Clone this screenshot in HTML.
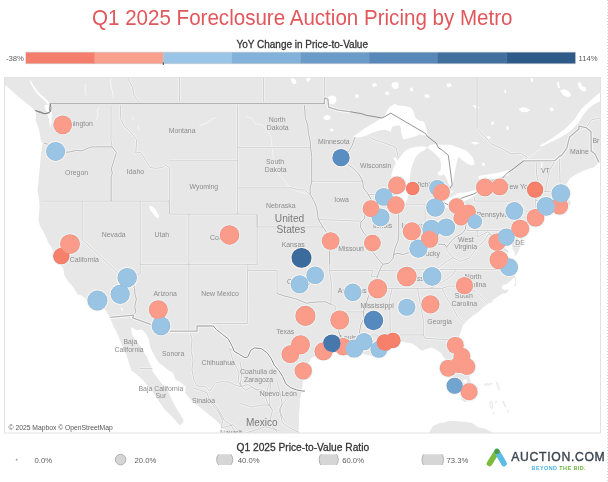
<!DOCTYPE html>
<html><head><meta charset="utf-8"><style>
html,body{margin:0;padding:0;background:#fff;}
body{width:608px;height:482px;position:relative;overflow:hidden;font-family:"Liberation Sans",sans-serif;}
.t{position:absolute;white-space:nowrap;line-height:1;will-change:transform;}
svg text{font-family:"Liberation Sans",sans-serif;}
</style></head><body>
<svg width="608" height="482" viewBox="0 0 608 482" style="position:absolute;left:0;top:0;will-change:transform">
<defs><clipPath id="mc"><rect x="4.5" y="77.5" width="596" height="355.5"/></clipPath></defs>
<rect x="26.00" y="52.4" width="68.92" height="11.1" fill="#f47e6b"/>
<rect x="94.62" y="52.4" width="68.92" height="11.1" fill="#f9a08e"/>
<rect x="163.25" y="52.4" width="68.92" height="11.1" fill="#9ac5e6"/>
<rect x="231.88" y="52.4" width="68.92" height="11.1" fill="#82b1d9"/>
<rect x="300.50" y="52.4" width="68.92" height="11.1" fill="#6b9bc8"/>
<rect x="369.12" y="52.4" width="68.92" height="11.1" fill="#5888ba"/>
<rect x="437.75" y="52.4" width="68.92" height="11.1" fill="#41709f"/>
<rect x="506.38" y="52.4" width="68.92" height="11.1" fill="#2d5a88"/>
<text x="236.4" y="47.8" font-size="10.2" fill="#333" stroke="#333" stroke-width="0.28" textLength="131.6" lengthAdjust="spacingAndGlyphs">YoY Change in Price-to-Value</text>
<text x="236.5" y="450.9" font-size="10.2" fill="#333" stroke="#333" stroke-width="0.28" textLength="132.6" lengthAdjust="spacingAndGlyphs">Q1 2025 Price-to-Value Ratio</text>
<text x="92" y="24.8" font-size="22.2" fill="#e2575b" textLength="420.5" lengthAdjust="spacingAndGlyphs">Q1 2025 Foreclosure Auction Pricing by Metro</text>
<rect x="25.7" y="52.1" width="549.6" height="11.7" fill="none" stroke="rgba(110,110,110,0.35)" stroke-width="0.6"/>
<rect x="162.8" y="62.5" width="0.9" height="2.5" fill="#333"/>
<text x="6" y="60.8" font-size="7.7" fill="#5c5c5c">-38%</text>
<text x="578.6" y="60.8" font-size="7.7" fill="#5c5c5c">114%</text>
<g clip-path="url(#mc)">
<rect x="0" y="0" width="608" height="482" fill="#ffffff"/>
<path d="M2.0,75.0 L2.0,86.0 L6.6,86.1 L16.6,95.3 L24.9,101.9 L30.0,106.0 L34.9,110.5 L36.0,113.0 L35.7,120.2 L38.2,126.8 L39.8,133.4 L40.7,140.0 L42.6,143.3 L41.6,150.0 L40.5,158.0 L39.9,166.6 L39.0,175.0 L38.3,183.2 L37.4,189.8 L39.1,199.8 L39.6,208.1 L38.3,219.7 L39.2,223.0 L40.0,226.0 L43.3,231.6 L46.6,238.3 L48.0,242.0 L50.7,245.7 L53.2,251.6 L57.7,254.5 L58.2,260.0 L60.0,264.0 L63.2,268.2 L64.0,272.0 L64.0,274.8 L68.2,281.4 L74.0,288.1 L77.5,294.5 L80.5,295.0 L84.8,298.0 L88.1,301.3 L92.0,300.5 L96.7,300.3 L99.0,303.0 L102.0,306.0 L105.7,310.0 L107.0,313.0 L109.4,316.6 L111.5,321.5 L113.5,326.6 L116.0,331.0 L118.7,337.0 L122.8,347.3 L126.0,354.0 L128.0,359.8 L131.1,370.2 L136.3,374.3 L141.5,378.5 L145.0,382.4 L150.0,388.0 L155.0,395.0 L158.7,401.1 L164.9,409.8 L170.5,415.0 L174.8,419.8 L178.5,424.0 L180.5,425.5 L183.5,421.5 L183.5,419.8 L181.0,415.5 L177.3,409.8 L172.3,401.1 L168.6,392.4 L165.9,388.6 L161.8,383.4 L157.6,378.2 L153.0,372.0 L151.4,366.8 L148.3,360.6 L146.9,356.9 L143.6,351.9 L141.1,346.9 L137.4,341.9 L134.4,338.6 L132.0,334.4 L131.1,329.5 L131.5,327.0 L132.8,328.2 L136.9,330.3 L141.9,329.5 L144.4,332.0 L146.9,335.3 L148.6,338.6 L149.4,342.7 L150.2,346.9 L151.9,351.0 L154.4,355.2 L156.0,358.5 L158.2,362.0 L162.8,365.7 L168.0,369.9 L173.2,373.0 L175.3,379.2 L180.5,382.3 L185.6,386.5 L185.2,392.7 L191.4,400.5 L199.2,406.7 L207.0,413.0 L214.8,419.2 L221.0,425.4 L227.2,431.7 L229.0,436.0 L299.0,436.0 L298.6,430.5 L299.2,418.9 L299.0,414.0 L300.2,399.2 L302.1,389.3 L303.1,379.4 L302.4,370.8 L305.0,367.0 L307.9,363.5 L311.8,357.6 L315.0,356.5 L319.7,355.6 L327.6,354.1 L332.0,352.5 L337.0,351.5 L343.4,354.2 L353.3,355.6 L361.1,353.7 L367.1,354.7 L372.0,356.0 L377.0,358.5 L382.4,357.8 L384.0,354.0 L383.5,351.0 L386.0,348.0 L390.7,346.0 L394.1,342.0 L397.0,341.2 L401.6,341.5 L406.6,342.4 L411.6,343.2 L416.6,346.6 L421.6,350.7 L426.5,349.0 L431.5,347.4 L436.5,349.9 L441.5,353.2 L442.8,356.3 L444.8,358.2 L446.5,361.5 L446.0,366.0 L444.8,370.8 L447.0,373.0 L449.8,374.8 L453.0,377.0 L456.4,378.1 L458.5,383.0 L460.2,392.0 L461.4,400.2 L465.0,402.3 L469.0,400.5 L471.0,396.5 L471.3,392.9 L471.2,385.0 L469.5,376.0 L467.5,369.0 L466.2,363.6 L463.5,355.0 L460.5,347.0 L458.8,342.3 L459.0,337.0 L461.1,331.0 L463.3,324.5 L467.4,320.5 L473.1,315.5 L478.0,312.5 L483.3,307.2 L488.3,303.5 L492.1,302.3 L493.2,299.7 L498.2,296.4 L502.4,293.6 L506.2,293.6 L509.8,288.6 L512.8,286.8 L516.3,286.0 L516.0,281.0 L515.3,276.5 L513.8,270.0 L511.8,266.5 L511.6,262.5 L513.5,258.0 L515.6,256.0 L517.3,253.2 L519.8,248.3 L520.5,244.5 L520.0,242.6 L521.3,240.8 L523.5,237.8 L526.6,234.0 L528.5,230.0 L530.0,226.0 L530.8,221.4 L532.0,219.8 L535.0,218.8 L540.0,216.8 L545.0,215.2 L551.8,213.3 L553.5,212.5 L556.0,212.0 L560.0,210.5 L563.0,208.8 L566.0,208.6 L569.8,205.5 L570.6,203.0 L570.3,200.8 L568.0,199.6 L566.3,201.6 L563.5,202.8 L561.5,200.0 L560.5,197.0 L562.0,194.5 L563.9,192.5 L565.0,188.5 L566.2,184.9 L567.4,182.4 L569.9,178.6 L573.6,176.1 L577.4,173.7 L582.3,171.2 L587.3,169.3 L593.5,167.4 L597.0,164.5 L599.0,162.3 L604.0,162.0 L604.0,75.0Z" fill="#e7e7e7" />
<path d="M423.8,438.4 L429.2,432.6 L433.1,425.8 L439.9,423.1 L444.8,422.6 L448.7,420.8 L454.5,421.0 L460.4,421.5 L466.2,422.1 L472.1,423.1 L477.9,427.3 L484.8,428.4 L491.6,432.1 L497.4,436.3 L501.3,441.5 L491.6,443.6 L423.8,443.6Z" fill="#e7e7e7" />
<path d="M484.5,384.2 L487.0,383.6 L489.5,384.0 L492.0,383.2 L492.3,383.9 L489.5,385.0 L486.5,385.2 L484.3,385.0Z" fill="#f7f7f7" stroke="#dadada" stroke-width="0.45"/>
<path d="M496.5,382.3 L497.8,383.0 L498.3,385.5 L499.5,387.5 L499.0,390.0 L498.0,388.0 L497.0,385.5Z" fill="#f7f7f7" stroke="#dadada" stroke-width="0.45"/>
<path d="M490.0,401.5 L491.5,400.8 L492.5,403.0 L492.8,406.5 L491.5,409.0 L490.5,407.0 L489.6,404.0Z" fill="#f7f7f7" stroke="#dadada" stroke-width="0.45"/>
<path d="M495.5,401.8 L496.8,401.6 L496.8,402.4 L495.5,402.5Z" fill="#f7f7f7" stroke="#dadada" stroke-width="0.45"/>
<path d="M503.5,401.0 L504.5,403.5 L506.0,406.5 L505.5,407.2 L504.0,404.5 L503.0,402.0Z" fill="#f7f7f7" stroke="#dadada" stroke-width="0.45"/>
<path d="M507.5,410.0 L509.0,412.0 L508.6,412.6 L507.2,410.8Z" fill="#f7f7f7" stroke="#dadada" stroke-width="0.45"/>
<path d="M493.5,412.5 L494.3,413.8 L493.8,414.5 L493.1,413.4Z" fill="#f7f7f7" stroke="#dadada" stroke-width="0.45"/>
<path d="M604.0,91.5 L600.0,92.8 L595.5,96.2 L591.4,100.1 L586.5,104.2 L581.7,108.6 L578.0,114.0 L574.4,119.6 L569.5,124.5 L564.7,129.3 L558.5,133.8 L552.5,137.9 L546.5,141.7 L540.3,145.2 L539.5,146.3 L542.8,145.9 L550.0,142.5 L557.4,139.1 L563.5,135.5 L569.5,131.8 L574.0,127.5 L578.1,123.3 L581.0,118.5 L584.1,113.5 L587.8,109.5 L591.4,106.2 L595.5,103.5 L600.0,101.3 L604.0,100.5Z" fill="#ffffff" />
<path d="M353.0,136.4 L358.9,132.7 L364.8,128.3 L372.2,123.9 L379.6,119.4 L384.8,115.7 L387.0,110.5 L390.0,106.8 L394.4,103.9 L398.8,105.4 L404.8,106.1 L410.7,107.6 L413.6,111.3 L415.1,117.2 L419.6,120.9 L424.0,121.6 L425.5,126.1 L427.0,130.5 L427.0,134.2 L430.0,134.7 L427.5,135.8 L424.0,135.5 L419.6,134.4 L415.1,136.4 L409.2,137.9 L403.3,139.4 L401.2,133.0 L401.0,128.5 L399.6,125.5 L396.0,125.5 L392.0,127.0 L390.7,132.0 L387.0,130.2 L385.5,129.8 L379.6,130.5 L372.2,132.7 L366.3,135.7 L360.4,137.2 L355.0,137.5Z" fill="#ffffff" />
<path d="M400.5,207.5 L398.5,205.0 L396.4,200.0 L395.0,194.0 L393.8,188.0 L392.5,182.0 L391.3,175.6 L392.5,171.0 L394.4,166.3 L396.5,162.0 L399.1,158.4 L403.8,152.2 L406.5,150.0 L410.0,148.3 L416.3,146.7 L422.5,146.3 L425.6,146.7 L427.2,147.5 L424.0,150.6 L420.2,152.2 L416.3,156.1 L413.9,160.8 L411.6,167.8 L410.0,175.6 L410.0,181.9 L409.5,188.0 L408.5,195.0 L407.0,200.0 L404.5,204.5 L402.5,207.3Z" fill="#ffffff" />
<path d="M393.3,158.2 L395.5,157.3 L398.5,163.0 L399.6,168.2 L398.3,168.4 L395.5,162.5Z" fill="#ffffff" />
<path d="M427.2,147.5 L430.3,144.8 L435.0,144.2 L441.3,144.7 L450.6,144.7 L458.4,147.5 L466.3,150.6 L472.5,156.9 L474.8,163.9 L472.0,165.5 L469.4,164.7 L466.0,163.0 L463.1,160.8 L460.5,158.5 L458.4,156.9 L457.5,159.0 L456.9,161.6 L455.3,169.4 L453.8,177.2 L452.8,182.0 L452.2,186.6 L450.5,186.8 L449.1,185.0 L447.8,181.5 L446.7,178.8 L445.0,176.0 L443.6,174.1 L441.5,175.5 L438.9,175.6 L437.3,172.5 L439.0,171.5 L440.5,170.9 L441.3,164.7 L439.7,158.4 L435.0,153.8 L430.3,149.8Z" fill="#ffffff" />
<path d="M449.5,191.5 L452.2,190.3 L452.8,192.6 L450.2,193.6Z" fill="#ffffff" />
<path d="M436.5,208.8 L438.5,206.3 L441.5,203.8 L445.0,201.5 L449.0,198.5 L452.0,196.4 L455.0,195.0 L458.2,193.3 L461.5,192.8 L465.3,192.4 L468.5,191.8 L471.5,191.1 L474.0,190.3 L476.0,189.8 L479.0,189.0 L481.5,188.4 L483.8,187.8 L484.3,189.3 L481.0,191.3 L477.0,193.8 L473.0,196.6 L468.5,199.2 L464.0,201.3 L459.5,203.4 L455.0,205.5 L450.5,206.6 L446.5,207.7 L442.0,208.8 L439.0,209.8Z" fill="#ffffff" />
<path d="M478.2,176.8 L481.0,175.5 L486.5,174.7 L490.5,174.0 L494.8,173.2 L499.0,172.4 L503.1,171.5 L506.5,170.5 L509.8,169.9 L510.5,171.5 L508.8,174.4 L506.4,175.7 L502.0,177.0 L498.1,178.3 L494.0,178.8 L489.8,179.1 L485.5,179.3 L481.5,179.6 L479.0,178.8Z" fill="#ffffff" />
<path d="M541.8,160.5 L542.6,160.3 L542.4,166.0 L541.5,171.5 L540.8,172.0 L541.2,166.0Z" fill="#ffffff" />
<path d="M150.0,205.5 L152.5,206.5 L155.5,209.5 L157.5,213.0 L159.2,216.5 L158.0,218.5 L155.5,216.8 L153.0,213.5 L150.5,210.5 L149.3,207.5Z" fill="#ffffff" />
<path d="M120.8,307.5 L121.8,307.8 L123.2,310.5 L122.4,311.0 L121.0,309.0Z" fill="#ffffff" />
<path d="M305.5,76.0 L311.0,76.0 L310.3,79.5 L308.5,82.0 L306.8,81.0Z" fill="#ffffff" />
<path d="M290.5,78.5 L293.0,77.8 L295.8,80.0 L296.5,83.5 L294.0,84.3 L291.5,82.0Z" fill="#ffffff" />
<path d="M328.0,97.0 L331.5,95.2 L335.5,96.5 L336.5,100.5 L334.0,104.5 L330.5,104.0 L328.5,101.0Z" fill="#ffffff" />
<path d="M463.5,379.5 L466.5,379.2 L467.3,382.2 L465.5,384.2 L463.3,382.5Z" fill="#ffffff" />
<path d="M392.0,83.0 L396.5,81.5 L399.0,84.0 L398.0,88.5 L394.0,89.0 L391.5,86.0Z" fill="#ffffff" />
<path d="M485.0,137.0 L489.5,136.3 L491.0,138.0 L487.0,139.3Z" fill="#ffffff" />
<path d="M323.5,116.5 L327.0,115.0 L331.0,116.3 L330.0,119.5 L326.0,120.0 L323.8,119.0Z" fill="#ffffff" />
<path d="M329.8,129.0 L332.8,128.5 L333.6,131.0 L330.5,131.5Z" fill="#ffffff" />
<path d="M482.0,163.0 L484.5,162.5 L485.0,165.5 L482.5,166.0Z" fill="#ffffff" />
<path d="M372.0,349.5 L377.0,348.5 L378.0,351.0 L373.0,351.5Z" fill="#ffffff" />
<path d="M505.5,246.0 L508.0,244.0 L511.0,241.0 L512.5,243.0 L512.0,248.0 L514.5,252.0 L515.5,257.0 L513.0,260.5 L511.6,262.5 L511.8,266.5 L508.0,262.0 L506.0,257.0 L505.5,252.0Z" fill="#ffffff" />
<path d="M520.0,242.6 L521.3,240.8 L519.8,237.5 L517.3,234.5 L516.4,235.3 L518.2,239.0Z" fill="#ffffff" />
<path d="M514.8,278.0 L515.5,283.0 L513.5,287.0 L509.0,289.5 L504.0,290.0 L501.5,288.0 L503.0,285.0 L507.0,284.0 L510.0,281.5 L513.0,278.5Z" fill="#ffffff" />
<path d="M44.5,105.5 L47.0,104.6 L50.3,106.5 L50.8,110.0 L52.0,113.0 L51.5,117.5 L51.8,122.0 L50.6,127.5 L49.3,124.0 L49.0,118.5 L47.5,115.5 L47.2,112.5 L45.5,109.0Z" fill="#ffffff" />
<path d="M30.5,80.0 L32.0,83.0 L33.8,86.0 L36.5,89.8 L39.2,93.0 L42.0,95.5 L44.5,97.8 L47.0,100.0 L49.0,102.0 L50.2,104.0 L49.6,105.6 L47.5,104.0 L45.5,101.5 L43.0,99.0 L40.5,97.0 L38.0,94.5 L35.5,91.5 L33.5,88.5 L31.5,85.0 L30.0,82.0Z" fill="#ffffff" />
<path d="M472.5,105.5 L476.5,104.8 L479.5,107.5 L476.0,109.2Z" fill="#ffffff" />
<path d="M518.5,109.0 L522.0,107.3 L526.0,107.8 L530.5,110.0 L527.0,112.3 L521.5,112.0Z" fill="#ffffff" />
<path d="M549.5,108.0 L552.5,107.6 L554.2,110.3 L551.0,111.4Z" fill="#ffffff" />
<path d="M504.2,90.2 L505.8,90.0 L506.2,93.4 L504.6,93.3Z" fill="#ffffff" />
<path d="M506.3,126.4 L508.4,126.0 L508.8,129.8 L506.7,130.0Z" fill="#ffffff" />
<path d="M470.3,142.5 L476.0,141.7 L479.5,143.3 L475.0,144.7Z" fill="#ffffff" />
<path d="M560.0,90.5 L564.0,89.0 L568.5,91.0 L571.5,95.0 L568.0,97.2 L563.5,95.5Z" fill="#ffffff" />
<path d="M577.5,83.0 L580.5,82.2 L582.5,86.5 L585.5,87.5 L586.3,91.0 L582.5,91.2 L579.0,88.0Z" fill="#ffffff" />
<path d="M557.0,82.5 L558.8,82.0 L559.8,87.8 L558.0,88.2Z" fill="#ffffff" />
<path d="M530.6,78.2 L532.6,78.0 L533.1,82.0 L531.2,82.1Z" fill="#ffffff" />
<path d="M491.0,122.0 L493.5,121.5 L494.0,124.5 L491.5,124.8Z" fill="#ffffff" />
<path d="M446.0,84.0 L450.0,83.0 L452.0,86.0 L448.0,87.5Z" fill="#ffffff" />
<path d="M424.0,95.0 L428.0,94.0 L430.0,97.0 L426.0,98.5Z" fill="#ffffff" />
<path d="M410.0,88.0 L412.5,87.5 L413.0,91.0 L410.5,91.2Z" fill="#ffffff" />
<path d="M372.0,84.0 L376.0,83.0 L377.0,86.0 L373.0,87.0Z" fill="#ffffff" />
<path d="M355.0,95.0 L358.0,94.2 L359.0,97.5 L356.0,98.0Z" fill="#ffffff" />
<path d="M385.0,92.0 L388.5,91.5 L389.0,94.5 L386.0,95.0Z" fill="#ffffff" />
<path d="M530.5,218.6 L535.0,217.2 L541.0,215.2 L547.5,213.2 L551.5,212.8" fill="none" stroke="#ffffff" stroke-width="1.2" stroke-linejoin="round" stroke-linecap="round" />
<path d="M246.2,116.2 L252.4,118.7 L254.9,123.7 L262.4,124.9 L268.0,131.0 L271.1,137.4 L272.4,149.8 L273.6,159.8 L277.3,172.3 L283.6,179.7 L289.8,187.2 L297.3,191.0 L304.8,193.4 L309.8,192.2" fill="none" stroke="#f4f4f4" stroke-width="0.9" stroke-linejoin="round" stroke-linecap="round" />
<path d="M199.7,125.5 L203.0,124.3 L205.0,123.5 L208.0,122.2 L210.0,121.0 L213.0,118.5 L215.5,118.0" fill="none" stroke="#f6f6f6" stroke-width="1.0" stroke-linejoin="round" stroke-linecap="round" />
<path d="M98.5,107.5 L97.5,111.0 L98.0,115.0 L96.5,119.5" fill="none" stroke="#f6f6f6" stroke-width="1.0" stroke-linejoin="round" stroke-linecap="round" />
<path d="M111.0,78.0 L110.5,83.0 L111.5,88.0 L112.8,93.0 L113.5,97.5" fill="none" stroke="#f6f6f6" stroke-width="1.0" stroke-linejoin="round" stroke-linecap="round" />
<path d="M85.5,84.5 L85.0,89.0 L86.2,95.0" fill="none" stroke="#f6f6f6" stroke-width="1.0" stroke-linejoin="round" stroke-linecap="round" />
<path d="M132.0,117.0 L133.5,120.0" fill="none" stroke="#f6f6f6" stroke-width="1.0" stroke-linejoin="round" stroke-linecap="round" />
<path d="M138.8,125.3 L137.8,128.0 L139.5,130.0" fill="none" stroke="#f6f6f6" stroke-width="1.0" stroke-linejoin="round" stroke-linecap="round" />
<path d="M509.8,169.9 L514.0,166.5 L518.0,162.5 L521.4,159.9 L526.0,158.5 L529.7,157.2 L533.0,155.0 L537.0,151.5 L541.0,148.0" fill="none" stroke="#f3f3f3" stroke-width="0.9" stroke-linejoin="round" stroke-linecap="round" />
<path d="M111.0,103.5 L111.0,140.8 L112.1,146.9 M41.1,201.1 L169.4,201.1 M82.1,201.1 L82.1,239.6 L134.5,288.4 M140.1,201.1 L140.1,274.0 L136.7,275.2 L133.3,275.8 L134.7,281.3 L134.5,288.4 M140.1,264.3 L257.6,264.3 M169.4,201.1 L169.4,214.1 L237.6,214.1 M188.9,214.1 L188.9,331.2 M169.4,214.1 L169.4,167.6 M169.4,160.8 L237.6,160.8 M237.6,103.5 L237.6,214.1 M257.1,214.1 L257.1,264.3 M237.6,214.1 L257.1,214.1 L257.1,226.9 L322.8,226.9 M120.6,103.5 L120.6,118.3 L124.0,126.2 L127.9,129.1 L134.7,137.0 L136.7,139.8 L136.2,146.9 L135.7,153.0 L140.6,152.4 L146.0,160.8 L150.3,167.6 L156.2,168.3 L162.0,167.6 L165.9,164.9 L169.4,167.6 M237.6,147.7 L310.6,147.7 M237.6,187.9 L291.7,187.9 L298.5,189.9 L304.4,189.9 L310.2,194.5 M311.7,181.2 L362.7,181.2 M318.3,219.5 L360.9,221.2 M247.8,264.3 L247.8,270.4 L277.1,270.4 L277.1,293.6 M329.5,264.3 L329.5,270.4 L331.4,283.7 L330.9,304.5 L335.2,305.5 L335.2,311.9 M335.2,311.9 L363.4,311.9 M329.5,270.4 L373.1,270.4 L370.9,276.4 L377.5,276.4 M212.5,323.5 L247.3,323.5 L247.5,270.4 M359.0,334.9 L377.2,334.9 L377.0,339.5 L378.5,344.0 M392.1,288.4 L389.5,300.3 L390.2,324.7 L390.2,341.7 M371.7,288.4 L430.2,288.4 M417.5,288.4 L423.3,320.1 L423.3,334.9 L398.0,334.9 L399.0,342.9 M423.3,334.9 L424.7,338.3 L450.6,339.8 L452.6,337.2 L458.0,338.3 M441.9,288.4 L446.7,297.9 L452.6,307.3 L457.5,316.6 L463.3,322.9 M430.2,288.4 L441.9,288.4 L449.7,286.0 L461.9,286.6 L463.3,287.2 L464.3,290.6 L475.2,290.8 L486.2,301.9 M430.2,288.4 L441.9,282.5 L452.6,275.2 L455.7,269.3 M379.5,270.4 L455.7,269.3 L512.4,269.8 M436.2,269.2 L447.7,260.7 L452.9,257.7 L446.7,249.9 L446.7,247.1 M368.4,194.5 L396.0,194.5 M399.0,204.2 L425.3,204.2 L425.3,205.0 L438.5,204.6 M425.1,205.0 L425.1,238.3 M467.0,218.8 L467.0,201.1 M467.0,230.5 L513.1,230.5 M477.2,230.5 L477.2,237.1 L487.7,232.0 L493.5,235.8 M452.9,257.7 L460.4,261.3 L469.2,258.2 L473.1,253.3 L477.0,247.1 L483.3,242.1 L488.2,234.5 L493.5,235.8 L496.5,237.1 L500.9,242.1 L501.3,247.1 L508.2,252.0 M513.1,230.5 L513.1,246.4 L520.4,246.4 M474.4,197.5 L474.4,201.1 L517.4,201.1 L519.9,203.1 L523.8,209.6 L519.9,216.1 L520.8,221.8 L523.6,225.0 L519.5,228.2 L515.5,232.0 M523.8,209.6 L530.6,214.1 M536.9,160.6 L536.4,174.4 L537.9,180.2 L537.7,191.2 L535.5,200.4 L535.0,210.2 L533.9,214.1 M537.7,191.2 L545.6,191.5 L546.2,186.5 L547.2,181.2 L549.6,170.4 L555.0,160.6 M545.6,191.5 L556.9,191.9 L561.8,189.6 M559.1,156.6 L559.8,174.4 L560.1,183.2 L562.8,186.9 M535.5,200.4 L552.0,200.8 L556.1,200.8 M552.0,200.8 L552.0,209.8 M556.1,200.8 L556.1,202.4 L558.7,207.6 M179.6,60.7 L179.6,103.5 M263.4,60.7 L263.4,103.5 M324.4,60.7 L324.4,97.9 M477.0,60.7 L477.0,128.4 L491.6,144.0 L501.3,148.3 L511.1,153.8 L520.8,153.1 L527.2,157.3 L523.8,160.8 M578.9,129.1 L586.2,127.7 L591.5,119.7 L598.8,118.3 L605.7,117.5 M140.1,368.6 L152.3,368.6 M194.2,388.3 L206.9,392.6 L209.8,401.2 L218.6,412.0 L222.5,420.5 L221.5,427.9 M229.3,348.5 L234.2,351.3 M238.1,381.7 L244.9,390.4 L251.7,387.2 L257.6,390.4 M229.3,348.5 L233.2,360.8 L239.1,373.0 L238.1,381.7 M260.5,374.1 L269.3,382.8 L265.4,396.9 L268.3,404.5 L272.2,409.8 M277.1,381.7 L280.0,392.6 L282.0,403.4 L280.0,412.0 L284.9,421.5 M257.6,390.4 L265.4,396.9 M221.5,427.9 L233.2,424.7 L238.1,430.0 M126.5,75.0 L128.5,80.0 L131.5,85.0 L132.6,87.5 L133.3,91.5 L134.0,95.4 L136.5,99.0 L139.2,102.5 M270.6,382.4 L269.6,395.0 L269.6,405.1 L272.5,410.0 L269.6,422.8 L277.5,432.7 M286.4,399.2 L279.4,409.0 L282.4,422.8 L290.0,428.0 L299.2,432.7 M240.0,403.1 L251.8,407.1 L261.7,405.1 L269.6,405.1 M245.9,433.0 L250.0,431.7 L265.6,426.8 L279.4,430.7 M216.0,383.0 L222.0,381.5 L229.0,382.0 L235.0,385.0 L240.0,386.5 L248.0,384.5 L255.0,389.0 L262.0,390.0 L270.0,395.0 M240.0,362.0 L242.0,372.0 L240.0,386.5 M210.0,400.0 L216.0,406.0 L220.0,412.0 L224.0,420.0 L231.0,425.0 L236.0,433.0 M190.0,331.0 L192.0,340.0 L191.0,350.0 L193.0,360.0 L192.0,370.0 L194.0,380.0 L197.0,386.0 L205.0,386.5 L210.0,391.0 L215.0,383.0 M370.5,137.6 L374.0,139.5 L380.5,141.5 L385.0,143.0 L390.0,145.1 L393.5,146.0 L396.0,147.5 L397.0,151.5 L398.4,158.2 M44.1,143.3 L49.9,144.7 L53.8,145.4 L55.2,151.8 L60.6,152.9 L70.4,151.8 L76.2,150.4 L82.1,150.8 L88.9,147.8 L92.0,146.9 L112.1,146.9 M112.1,146.9 L116.4,152.4 L114.3,159.4 L111.3,169.0 L112.3,173.1 L111.1,177.1 L111.1,201.1 M134.5,288.4 L135.0,294.4 L136.4,299.1 L134.7,306.1 L135.7,311.9 L133.6,315.2 M304.1,103.5 L304.9,110.9 L305.4,118.3 L307.8,125.5 L308.3,132.7 L310.2,141.2 L310.6,147.7 L311.7,156.6 L311.7,181.2 M311.7,181.2 L310.2,187.9 L310.2,194.5 L314.1,201.1 L316.6,207.6 L317.6,214.1 L318.3,219.5 L322.8,226.9 M355.1,137.0 L352.2,145.4 L347.8,152.9 L347.3,164.2 L352.2,167.6 L359.0,174.4 L362.7,181.2 L363.4,187.9 L368.3,194.5 L372.6,202.4 L370.7,207.0 L364.4,211.5 L364.8,218.0 L360.9,222.1 L360.5,226.9 L363.9,233.3 L367.8,237.1 L372.8,242.1 L372.6,244.6 L371.7,250.8 L379.5,260.7 L382.9,264.3 L379.5,270.4 L377.5,276.4 L373.6,288.4 L368.7,295.5 L363.4,311.9 L363.9,317.7 L360.9,324.7 L359.0,334.9 M322.8,226.9 L326.3,232.0 L329.6,238.3 L329.6,264.3 M277.1,293.6 L284.9,296.1 L295.6,298.7 L306.3,303.2 L316.1,302.0 L325.8,301.8 L330.9,304.5 M335.2,311.9 L335.2,323.5 L337.5,328.1 L340.0,334.9 L339.5,341.7 L337.2,349.1 M382.9,264.3 L389.2,263.1 L393.1,258.2 L393.6,254.5 L398.0,253.3 L402.9,254.5 L408.7,252.7 L415.5,248.3 L419.4,243.3 L425.1,238.3 L430.2,240.2 L437.0,244.0 L444.8,244.6 L446.7,247.1 L451.6,240.8 L455.5,237.1 L462.3,233.3 L465.3,229.5 L467.0,218.8 M393.6,254.5 L395.1,248.3 L398.0,240.8 L398.7,235.2 L398.7,204.2" fill="none" stroke="#f5f5f5" stroke-width="2.4" stroke-linejoin="round"/>
<path d="M111.0,103.5 L111.0,140.8 L112.1,146.9 M41.1,201.1 L169.4,201.1 M82.1,201.1 L82.1,239.6 L134.5,288.4 M140.1,201.1 L140.1,274.0 L136.7,275.2 L133.3,275.8 L134.7,281.3 L134.5,288.4 M140.1,264.3 L257.6,264.3 M169.4,201.1 L169.4,214.1 L237.6,214.1 M188.9,214.1 L188.9,331.2 M169.4,214.1 L169.4,167.6 M169.4,160.8 L237.6,160.8 M237.6,103.5 L237.6,214.1 M257.1,214.1 L257.1,264.3 M237.6,214.1 L257.1,214.1 L257.1,226.9 L322.8,226.9 M120.6,103.5 L120.6,118.3 L124.0,126.2 L127.9,129.1 L134.7,137.0 L136.7,139.8 L136.2,146.9 L135.7,153.0 L140.6,152.4 L146.0,160.8 L150.3,167.6 L156.2,168.3 L162.0,167.6 L165.9,164.9 L169.4,167.6 M237.6,147.7 L310.6,147.7 M237.6,187.9 L291.7,187.9 L298.5,189.9 L304.4,189.9 L310.2,194.5 M311.7,181.2 L362.7,181.2 M318.3,219.5 L360.9,221.2 M247.8,264.3 L247.8,270.4 L277.1,270.4 L277.1,293.6 M329.5,264.3 L329.5,270.4 L331.4,283.7 L330.9,304.5 L335.2,305.5 L335.2,311.9 M335.2,311.9 L363.4,311.9 M329.5,270.4 L373.1,270.4 L370.9,276.4 L377.5,276.4 M212.5,323.5 L247.3,323.5 L247.5,270.4 M359.0,334.9 L377.2,334.9 L377.0,339.5 L378.5,344.0 M392.1,288.4 L389.5,300.3 L390.2,324.7 L390.2,341.7 M371.7,288.4 L430.2,288.4 M417.5,288.4 L423.3,320.1 L423.3,334.9 L398.0,334.9 L399.0,342.9 M423.3,334.9 L424.7,338.3 L450.6,339.8 L452.6,337.2 L458.0,338.3 M441.9,288.4 L446.7,297.9 L452.6,307.3 L457.5,316.6 L463.3,322.9 M430.2,288.4 L441.9,288.4 L449.7,286.0 L461.9,286.6 L463.3,287.2 L464.3,290.6 L475.2,290.8 L486.2,301.9 M430.2,288.4 L441.9,282.5 L452.6,275.2 L455.7,269.3 M379.5,270.4 L455.7,269.3 L512.4,269.8 M436.2,269.2 L447.7,260.7 L452.9,257.7 L446.7,249.9 L446.7,247.1 M368.4,194.5 L396.0,194.5 M399.0,204.2 L425.3,204.2 L425.3,205.0 L438.5,204.6 M425.1,205.0 L425.1,238.3 M467.0,218.8 L467.0,201.1 M467.0,230.5 L513.1,230.5 M477.2,230.5 L477.2,237.1 L487.7,232.0 L493.5,235.8 M452.9,257.7 L460.4,261.3 L469.2,258.2 L473.1,253.3 L477.0,247.1 L483.3,242.1 L488.2,234.5 L493.5,235.8 L496.5,237.1 L500.9,242.1 L501.3,247.1 L508.2,252.0 M513.1,230.5 L513.1,246.4 L520.4,246.4 M474.4,197.5 L474.4,201.1 L517.4,201.1 L519.9,203.1 L523.8,209.6 L519.9,216.1 L520.8,221.8 L523.6,225.0 L519.5,228.2 L515.5,232.0 M523.8,209.6 L530.6,214.1 M536.9,160.6 L536.4,174.4 L537.9,180.2 L537.7,191.2 L535.5,200.4 L535.0,210.2 L533.9,214.1 M537.7,191.2 L545.6,191.5 L546.2,186.5 L547.2,181.2 L549.6,170.4 L555.0,160.6 M545.6,191.5 L556.9,191.9 L561.8,189.6 M559.1,156.6 L559.8,174.4 L560.1,183.2 L562.8,186.9 M535.5,200.4 L552.0,200.8 L556.1,200.8 M552.0,200.8 L552.0,209.8 M556.1,200.8 L556.1,202.4 L558.7,207.6 M179.6,60.7 L179.6,103.5 M263.4,60.7 L263.4,103.5 M324.4,60.7 L324.4,97.9 M477.0,60.7 L477.0,128.4 L491.6,144.0 L501.3,148.3 L511.1,153.8 L520.8,153.1 L527.2,157.3 L523.8,160.8 M578.9,129.1 L586.2,127.7 L591.5,119.7 L598.8,118.3 L605.7,117.5 M140.1,368.6 L152.3,368.6 M194.2,388.3 L206.9,392.6 L209.8,401.2 L218.6,412.0 L222.5,420.5 L221.5,427.9 M229.3,348.5 L234.2,351.3 M238.1,381.7 L244.9,390.4 L251.7,387.2 L257.6,390.4 M229.3,348.5 L233.2,360.8 L239.1,373.0 L238.1,381.7 M260.5,374.1 L269.3,382.8 L265.4,396.9 L268.3,404.5 L272.2,409.8 M277.1,381.7 L280.0,392.6 L282.0,403.4 L280.0,412.0 L284.9,421.5 M257.6,390.4 L265.4,396.9 M221.5,427.9 L233.2,424.7 L238.1,430.0 M126.5,75.0 L128.5,80.0 L131.5,85.0 L132.6,87.5 L133.3,91.5 L134.0,95.4 L136.5,99.0 L139.2,102.5 M270.6,382.4 L269.6,395.0 L269.6,405.1 L272.5,410.0 L269.6,422.8 L277.5,432.7 M286.4,399.2 L279.4,409.0 L282.4,422.8 L290.0,428.0 L299.2,432.7 M240.0,403.1 L251.8,407.1 L261.7,405.1 L269.6,405.1 M245.9,433.0 L250.0,431.7 L265.6,426.8 L279.4,430.7 M216.0,383.0 L222.0,381.5 L229.0,382.0 L235.0,385.0 L240.0,386.5 L248.0,384.5 L255.0,389.0 L262.0,390.0 L270.0,395.0 M240.0,362.0 L242.0,372.0 L240.0,386.5 M210.0,400.0 L216.0,406.0 L220.0,412.0 L224.0,420.0 L231.0,425.0 L236.0,433.0 M190.0,331.0 L192.0,340.0 L191.0,350.0 L193.0,360.0 L192.0,370.0 L194.0,380.0 L197.0,386.0 L205.0,386.5 L210.0,391.0 L215.0,383.0 M370.5,137.6 L374.0,139.5 L380.5,141.5 L385.0,143.0 L390.0,145.1 L393.5,146.0 L396.0,147.5 L397.0,151.5 L398.4,158.2" fill="none" stroke="#c4c4c4" stroke-width="0.8" stroke-linejoin="round"/>
<path d="M44.1,143.3 L49.9,144.7 L53.8,145.4 L55.2,151.8 L60.6,152.9 L70.4,151.8 L76.2,150.4 L82.1,150.8 L88.9,147.8 L92.0,146.9 L112.1,146.9 M112.1,146.9 L116.4,152.4 L114.3,159.4 L111.3,169.0 L112.3,173.1 L111.1,177.1 L111.1,201.1 M134.5,288.4 L135.0,294.4 L136.4,299.1 L134.7,306.1 L135.7,311.9 L133.6,315.2 M304.1,103.5 L304.9,110.9 L305.4,118.3 L307.8,125.5 L308.3,132.7 L310.2,141.2 L310.6,147.7 L311.7,156.6 L311.7,181.2 M311.7,181.2 L310.2,187.9 L310.2,194.5 L314.1,201.1 L316.6,207.6 L317.6,214.1 L318.3,219.5 L322.8,226.9 M355.1,137.0 L352.2,145.4 L347.8,152.9 L347.3,164.2 L352.2,167.6 L359.0,174.4 L362.7,181.2 L363.4,187.9 L368.3,194.5 L372.6,202.4 L370.7,207.0 L364.4,211.5 L364.8,218.0 L360.9,222.1 L360.5,226.9 L363.9,233.3 L367.8,237.1 L372.8,242.1 L372.6,244.6 L371.7,250.8 L379.5,260.7 L382.9,264.3 L379.5,270.4 L377.5,276.4 L373.6,288.4 L368.7,295.5 L363.4,311.9 L363.9,317.7 L360.9,324.7 L359.0,334.9 M322.8,226.9 L326.3,232.0 L329.6,238.3 L329.6,264.3 M277.1,293.6 L284.9,296.1 L295.6,298.7 L306.3,303.2 L316.1,302.0 L325.8,301.8 L330.9,304.5 M335.2,311.9 L335.2,323.5 L337.5,328.1 L340.0,334.9 L339.5,341.7 L337.2,349.1 M382.9,264.3 L389.2,263.1 L393.1,258.2 L393.6,254.5 L398.0,253.3 L402.9,254.5 L408.7,252.7 L415.5,248.3 L419.4,243.3 L425.1,238.3 L430.2,240.2 L437.0,244.0 L444.8,244.6 L446.7,247.1 L451.6,240.8 L455.5,237.1 L462.3,233.3 L465.3,229.5 L467.0,218.8 M393.6,254.5 L395.1,248.3 L398.0,240.8 L398.7,235.2 L398.7,204.2" fill="none" stroke="#a6a6a6" stroke-width="0.8" stroke-linejoin="round"/>
<path d="M49.9,103.5 L324.4,103.5 L324.4,97.9 L327.8,99.1 L328.8,107.3 L338.5,110.2 L349.2,111.7 L350.2,111.7 M523.8,160.8 L555.0,160.6 L559.1,156.6 L561.8,155.2 L566.7,148.3 L569.6,137.0 L578.9,129.1 L578.9,126.2 L586.2,127.7 L591.0,131.7 L591.2,151.1 L594.9,153.8 L598.8,162.1 M110.2,317.4 L133.6,315.2 L132.7,317.9 L169.2,331.2 L197.0,331.2 L197.0,326.0 L213.4,326.0" fill="none" stroke="#fafafa" stroke-width="3" stroke-linejoin="round"/>
<path d="M49.9,103.5 L324.4,103.5 L324.4,97.9 L327.8,99.1 L328.8,107.3 L338.5,110.2 L349.2,111.7 L350.2,111.7 M523.8,160.8 L555.0,160.6 L559.1,156.6 L561.8,155.2 L566.7,148.3 L569.6,137.0 L578.9,129.1 L578.9,126.2 L586.2,127.7 L591.0,131.7 L591.2,151.1 L594.9,153.8 L598.8,162.1 M110.2,317.4 L133.6,315.2 L132.7,317.9 L169.2,331.2 L197.0,331.2 L197.0,326.0 L213.4,326.0" fill="none" stroke="#b4b4b4" stroke-width="1.3" stroke-linejoin="round"/>
<path d="M213.4,326.0 L216.6,329.8 L222.5,334.4 L228.3,338.9 L232.2,346.3 L234.2,351.3 L239.1,354.1 L244.9,357.7 L247.8,356.9 L250.8,350.2 L254.7,347.9 L261.5,348.7 L267.3,353.0 L271.2,358.6 L274.2,365.2 L279.0,370.8 L282.5,376.3 L285.9,383.9 L290.7,387.7 L296.6,389.9 L302.4,391.0 L304.9,391.0" fill="none" stroke="#fafafa" stroke-width="2.8" stroke-linejoin="round"/>
<path d="M213.4,326.0 L216.6,329.8 L222.5,334.4 L228.3,338.9 L232.2,346.3 L234.2,351.3 L239.1,354.1 L244.9,357.7 L247.8,356.9 L250.8,350.2 L254.7,347.9 L261.5,348.7 L267.3,353.0 L271.2,358.6 L274.2,365.2 L279.0,370.8 L282.5,376.3 L285.9,383.9 L290.7,387.7 L296.6,389.9 L302.4,391.0 L304.9,391.0" fill="none" stroke="#8a8a8a" stroke-width="1" stroke-linejoin="round"/>
<path d="M49.9,103.5 L50.9,107.3 L50.4,111.7 L45.0,113.9 L40.2,111.7 L36.0,110.9 M447.7,193.2 L441.9,199.8 L441.9,201.8 L448.7,205.0 L462.3,197.8 L474.0,193.9 L481.8,189.2 L481.8,183.9 L491.6,180.5 L501.3,179.2 L507.2,173.1 L513.0,169.0 L523.8,160.8 M34.9,110.2 L39.0,112.2 L44.0,113.6 L48.5,113.3 L50.0,111.5 L49.3,108.5 L50.5,104.0 M350.2,111.7 L355.0,112.6 L361.0,113.5 L367.0,115.5 L372.0,116.2 L378.0,117.3 L381.8,118.0 L385.0,116.5 L390.7,113.1 L425.5,133.5 L427.3,136.3 L430.0,138.3 L433.0,140.8 L436.3,143.2 L438.1,147.5 L442.8,150.6 L448.3,155.3 L449.8,166.3 L451.4,178.8 L452.2,185.0 L449.3,189.0 L447.7,193.2" fill="none" stroke="#7a7a7a" stroke-width="0.8" stroke-linejoin="round"/>
<text x="168.7" y="132.9" font-size="6.9" fill="#8c8c8c">Montana</text>
<text x="126.8" y="173.7" font-size="6.9" fill="#8c8c8c">Idaho</text>
<text x="56.7" y="126.3" font-size="6.9" fill="#8c8c8c">Washington</text>
<text x="65.1" y="174.9" font-size="6.9" fill="#8c8c8c">Oregon</text>
<text x="101.8" y="237.2" font-size="6.9" fill="#8c8c8c">Nevada</text>
<text x="154.5" y="237.2" font-size="6.9" fill="#8c8c8c">Utah</text>
<text x="189.5" y="188.8" font-size="6.9" fill="#8c8c8c">Wyoming</text>
<text x="210.0" y="239.5" font-size="6.9" fill="#8c8c8c">Colorado</text>
<text x="69.8" y="262.4" font-size="6.9" fill="#8c8c8c">California</text>
<text x="153.5" y="296.0" font-size="6.9" fill="#8c8c8c">Arizona</text>
<text x="201.2" y="295.5" font-size="6.9" fill="#8c8c8c">New Mexico</text>
<text x="268.7" y="121.6" font-size="6.9" fill="#8c8c8c">North</text>
<text x="266.8" y="129.5" font-size="6.9" fill="#8c8c8c">Dakota</text>
<text x="266.0" y="164.2" font-size="6.9" fill="#8c8c8c">South</text>
<text x="264.7" y="172.1" font-size="6.9" fill="#8c8c8c">Dakota</text>
<text x="266.0" y="208.4" font-size="6.9" fill="#8c8c8c">Nebraska</text>
<text x="281.7" y="247.1" font-size="6.9" fill="#8c8c8c">Kansas</text>
<text x="287.0" y="283.5" font-size="6.9" fill="#8c8c8c">Oklahoma</text>
<text x="276.2" y="334.1" font-size="6.9" fill="#8c8c8c">Texas</text>
<text x="317.9" y="143.5" font-size="6.9" fill="#8c8c8c">Minnesota</text>
<text x="334.3" y="201.8" font-size="6.9" fill="#8c8c8c">Iowa</text>
<text x="338.2" y="250.5" font-size="6.9" fill="#8c8c8c">Missouri</text>
<text x="337.8" y="293.0" font-size="6.9" fill="#8c8c8c">Arkansas</text>
<text x="340.0" y="339.5" font-size="6.9" fill="#8c8c8c">Louisiana</text>
<text x="360.4" y="307.7" font-size="6.9" fill="#8c8c8c">Mississippi</text>
<text x="360.0" y="167.8" font-size="6.9" fill="#8c8c8c">Wisconsin</text>
<text x="373.0" y="228.1" font-size="6.9" fill="#8c8c8c">Illinois</text>
<text x="414.0" y="186.7" font-size="6.9" fill="#8c8c8c">Michigan</text>
<text x="401.5" y="227.5" font-size="6.9" fill="#8c8c8c">Indiana</text>
<text x="440.0" y="224.5" font-size="6.9" fill="#8c8c8c">Ohio</text>
<text x="411.5" y="256.1" font-size="6.9" fill="#8c8c8c">Kentucky</text>
<text x="398.0" y="281.1" font-size="6.9" fill="#8c8c8c">Tennessee</text>
<text x="427.3" y="323.5" font-size="6.9" fill="#8c8c8c">Georgia</text>
<text x="454.8" y="298.1" font-size="6.9" fill="#8c8c8c">South</text>
<text x="451.5" y="305.6" font-size="6.9" fill="#8c8c8c">Carolina</text>
<text x="464.7" y="279.4" font-size="6.9" fill="#8c8c8c">North</text>
<text x="460.5" y="287.4" font-size="6.9" fill="#8c8c8c">Carolina</text>
<text x="458.0" y="241.7" font-size="6.9" fill="#8c8c8c">West</text>
<text x="454.2" y="249.2" font-size="6.9" fill="#8c8c8c">Virginia</text>
<text x="476.5" y="216.8" font-size="6.9" fill="#8c8c8c">Pennsylvania</text>
<text x="504.5" y="188.5" font-size="6.9" fill="#8c8c8c">New York</text>
<text x="541.0" y="173.0" font-size="6.9" fill="#8c8c8c">VT</text>
<text x="570.0" y="154.1" font-size="6.9" fill="#8c8c8c">Maine</text>
<text x="515.3" y="244.7" font-size="6.9" fill="#8c8c8c">DE</text>
<text x="592.5" y="143.0" font-size="6.9" fill="#8c8c8c">Brunswick</text>
<text x="162.0" y="355.5" font-size="6.9" fill="#8c8c8c">Sonora</text>
<text x="201.5" y="365.0" font-size="6.9" fill="#8c8c8c">Chihuahua</text>
<text x="240.0" y="374.1" font-size="6.9" fill="#8c8c8c">Coahuila de</text>
<text x="244.0" y="381.9" font-size="6.9" fill="#8c8c8c">Zaragoza</text>
<text x="259.7" y="396.1" font-size="6.9" fill="#8c8c8c">Nuevo León</text>
<text x="192.0" y="403.0" font-size="6.9" fill="#8c8c8c">Sinaloa</text>
<text x="123.5" y="344.0" font-size="6.9" fill="#8c8c8c">Baja</text>
<text x="114.5" y="351.7" font-size="6.9" fill="#8c8c8c">California</text>
<text x="138.5" y="390.5" font-size="6.9" fill="#8c8c8c">Baja California</text>
<text x="155.5" y="398.0" font-size="6.9" fill="#8c8c8c">Sur</text>
<text x="220.0" y="434.5" font-size="6.9" fill="#8c8c8c">Nayarit</text>
<text x="274.8" y="222.2" font-size="10.2" fill="#7a7a7a">United</text>
<text x="276.5" y="233.2" font-size="10.2" fill="#7a7a7a">States</text>
<text x="245.9" y="425.5" font-size="10" fill="#7a7a7a">Mexico</text>
<circle cx="62.7" cy="124.8" r="10.35" fill="#e4f5f8"/>
<circle cx="55.6" cy="151.4" r="10.50" fill="#fdf4ec"/>
<circle cx="61.3" cy="256.2" r="9.15" fill="#e4f5f8"/>
<circle cx="70.0" cy="244.1" r="10.90" fill="#e4f5f8"/>
<circle cx="97.4" cy="300.5" r="11.00" fill="#fdf4ec"/>
<circle cx="127.2" cy="277.7" r="10.75" fill="#fdf4ec"/>
<circle cx="120.2" cy="294.3" r="10.60" fill="#fdf4ec"/>
<circle cx="161.0" cy="325.8" r="10.35" fill="#fdf4ec"/>
<circle cx="158.3" cy="309.7" r="10.50" fill="#e4f5f8"/>
<circle cx="229.5" cy="234.9" r="10.75" fill="#e4f5f8"/>
<circle cx="341.0" cy="157.7" r="9.65" fill="#fdf4ec"/>
<circle cx="330.6" cy="241.0" r="9.85" fill="#e4f5f8"/>
<circle cx="301.5" cy="257.9" r="10.95" fill="#fdf4ec"/>
<circle cx="315.2" cy="275.2" r="9.80" fill="#fdf4ec"/>
<circle cx="299.6" cy="284.3" r="9.95" fill="#fdf4ec"/>
<circle cx="305.4" cy="315.9" r="11.05" fill="#e4f5f8"/>
<circle cx="339.7" cy="320.0" r="10.40" fill="#e4f5f8"/>
<circle cx="352.8" cy="292.3" r="9.70" fill="#fdf4ec"/>
<circle cx="377.6" cy="288.7" r="10.65" fill="#e4f5f8"/>
<circle cx="373.5" cy="320.5" r="10.65" fill="#fdf4ec"/>
<circle cx="290.4" cy="354.2" r="9.85" fill="#e4f5f8"/>
<circle cx="300.5" cy="344.8" r="10.45" fill="#e4f5f8"/>
<circle cx="303.2" cy="370.9" r="9.60" fill="#e4f5f8"/>
<circle cx="323.5" cy="351.3" r="10.00" fill="#e4f5f8"/>
<circle cx="343.3" cy="346.6" r="9.60" fill="#e4f5f8"/>
<circle cx="332.0" cy="343.4" r="10.00" fill="#fdf4ec"/>
<circle cx="378.8" cy="349.5" r="9.35" fill="#fdf4ec"/>
<circle cx="364.0" cy="341.6" r="9.60" fill="#fdf4ec"/>
<circle cx="354.2" cy="348.5" r="10.10" fill="#fdf4ec"/>
<circle cx="393.0" cy="340.3" r="8.60" fill="#e4f5f8"/>
<circle cx="384.7" cy="342.7" r="9.45" fill="#e4f5f8"/>
<circle cx="372.4" cy="243.1" r="9.35" fill="#e4f5f8"/>
<circle cx="380.6" cy="217.4" r="9.95" fill="#fdf4ec"/>
<circle cx="371.0" cy="208.7" r="9.40" fill="#e4f5f8"/>
<circle cx="383.8" cy="196.9" r="9.95" fill="#fdf4ec"/>
<circle cx="396.9" cy="185.4" r="9.80" fill="#e4f5f8"/>
<circle cx="395.8" cy="205.1" r="9.80" fill="#e4f5f8"/>
<circle cx="412.7" cy="188.5" r="7.75" fill="#e4f5f8"/>
<circle cx="437.3" cy="188.0" r="9.10" fill="#fdf4ec"/>
<circle cx="435.4" cy="207.4" r="10.25" fill="#fdf4ec"/>
<circle cx="441.2" cy="192.2" r="9.65" fill="#e4f5f8"/>
<circle cx="456.6" cy="206.0" r="8.85" fill="#e4f5f8"/>
<circle cx="468.5" cy="211.8" r="8.35" fill="#e4f5f8"/>
<circle cx="461.0" cy="218.0" r="8.60" fill="#e4f5f8"/>
<circle cx="474.8" cy="221.6" r="8.35" fill="#fdf4ec"/>
<circle cx="411.9" cy="231.3" r="10.05" fill="#e4f5f8"/>
<circle cx="446.2" cy="227.3" r="9.90" fill="#fdf4ec"/>
<circle cx="431.4" cy="229.0" r="10.15" fill="#fdf4ec"/>
<circle cx="418.4" cy="248.6" r="10.10" fill="#fdf4ec"/>
<circle cx="429.7" cy="239.0" r="9.70" fill="#e4f5f8"/>
<circle cx="484.9" cy="187.4" r="9.90" fill="#e4f5f8"/>
<circle cx="499.7" cy="186.9" r="9.45" fill="#e4f5f8"/>
<circle cx="535.1" cy="189.7" r="9.10" fill="#e4f5f8"/>
<circle cx="559.5" cy="206.0" r="9.60" fill="#e4f5f8"/>
<circle cx="560.8" cy="193.6" r="10.35" fill="#fdf4ec"/>
<circle cx="535.5" cy="217.7" r="9.80" fill="#e4f5f8"/>
<circle cx="546.1" cy="206.4" r="10.35" fill="#fdf4ec"/>
<circle cx="514.3" cy="210.9" r="9.85" fill="#fdf4ec"/>
<circle cx="520.2" cy="228.7" r="10.00" fill="#e4f5f8"/>
<circle cx="497.0" cy="242.2" r="9.60" fill="#e4f5f8"/>
<circle cx="506.1" cy="237.2" r="9.60" fill="#fdf4ec"/>
<circle cx="509.1" cy="267.2" r="9.90" fill="#fdf4ec"/>
<circle cx="498.9" cy="259.8" r="10.35" fill="#e4f5f8"/>
<circle cx="406.8" cy="276.5" r="10.80" fill="#e4f5f8"/>
<circle cx="432.1" cy="276.4" r="10.35" fill="#fdf4ec"/>
<circle cx="464.5" cy="285.7" r="9.60" fill="#e4f5f8"/>
<circle cx="406.8" cy="307.3" r="9.55" fill="#fdf4ec"/>
<circle cx="430.4" cy="304.4" r="10.10" fill="#e4f5f8"/>
<circle cx="455.3" cy="345.3" r="9.40" fill="#e4f5f8"/>
<circle cx="461.9" cy="356.5" r="9.40" fill="#e4f5f8"/>
<circle cx="458.6" cy="364.8" r="9.30" fill="#e4f5f8"/>
<circle cx="466.9" cy="366.6" r="9.40" fill="#e4f5f8"/>
<circle cx="448.2" cy="368.3" r="9.40" fill="#e4f5f8"/>
<circle cx="454.6" cy="385.8" r="9.05" fill="#fdf4ec"/>
<circle cx="469.1" cy="391.8" r="9.50" fill="#e4f5f8"/>
<circle cx="62.7" cy="124.8" r="9.35" fill="#f38c7a"/>
<circle cx="55.6" cy="151.4" r="9.50" fill="#89badf"/>
<circle cx="61.3" cy="256.2" r="8.15" fill="#ef735e"/>
<circle cx="70.0" cy="244.1" r="9.90" fill="#f38c7a"/>
<circle cx="97.4" cy="300.5" r="10.00" fill="#89badf"/>
<circle cx="127.2" cy="277.7" r="9.75" fill="#89badf"/>
<circle cx="120.2" cy="294.3" r="9.60" fill="#89badf"/>
<circle cx="161.0" cy="325.8" r="9.35" fill="#89badf"/>
<circle cx="158.3" cy="309.7" r="9.50" fill="#f38c7a"/>
<circle cx="229.5" cy="234.9" r="9.75" fill="#f38c7a"/>
<circle cx="341.0" cy="157.7" r="8.65" fill="#5186bf"/>
<circle cx="330.6" cy="241.0" r="8.85" fill="#f38c7a"/>
<circle cx="301.5" cy="257.9" r="9.95" fill="#356498"/>
<circle cx="315.2" cy="275.2" r="8.80" fill="#89badf"/>
<circle cx="299.6" cy="284.3" r="8.95" fill="#89badf"/>
<circle cx="305.4" cy="315.9" r="10.05" fill="#f38c7a"/>
<circle cx="339.7" cy="320.0" r="9.40" fill="#f38c7a"/>
<circle cx="352.8" cy="292.3" r="8.70" fill="#89badf"/>
<circle cx="377.6" cy="288.7" r="9.65" fill="#f38c7a"/>
<circle cx="373.5" cy="320.5" r="9.65" fill="#4d82ba"/>
<circle cx="290.4" cy="354.2" r="8.85" fill="#f38c7a"/>
<circle cx="300.5" cy="344.8" r="9.45" fill="#f38c7a"/>
<circle cx="303.2" cy="370.9" r="8.60" fill="#f38c7a"/>
<circle cx="323.5" cy="351.3" r="9.00" fill="#f38c7a"/>
<circle cx="343.3" cy="346.6" r="8.60" fill="#f38c7a"/>
<circle cx="332.0" cy="343.4" r="9.00" fill="#3f71a9"/>
<circle cx="378.8" cy="349.5" r="8.35" fill="#89badf"/>
<circle cx="364.0" cy="341.6" r="8.60" fill="#89badf"/>
<circle cx="354.2" cy="348.5" r="9.10" fill="#89badf"/>
<circle cx="393.0" cy="340.3" r="7.60" fill="#ef735e"/>
<circle cx="384.7" cy="342.7" r="8.45" fill="#ef735e"/>
<circle cx="372.4" cy="243.1" r="8.35" fill="#f38c7a"/>
<circle cx="380.6" cy="217.4" r="8.95" fill="#89badf"/>
<circle cx="371.0" cy="208.7" r="8.40" fill="#f38c7a"/>
<circle cx="383.8" cy="196.9" r="8.95" fill="#89badf"/>
<circle cx="396.9" cy="185.4" r="8.80" fill="#f38c7a"/>
<circle cx="395.8" cy="205.1" r="8.80" fill="#f38c7a"/>
<circle cx="412.7" cy="188.5" r="6.75" fill="#ef735e"/>
<circle cx="437.3" cy="188.0" r="8.10" fill="#89badf"/>
<circle cx="435.4" cy="207.4" r="9.25" fill="#89badf"/>
<circle cx="441.2" cy="192.2" r="8.65" fill="#f38c7a"/>
<circle cx="456.6" cy="206.0" r="7.85" fill="#f38c7a"/>
<circle cx="468.5" cy="211.8" r="7.35" fill="#f38c7a"/>
<circle cx="461.0" cy="218.0" r="7.60" fill="#f38c7a"/>
<circle cx="474.8" cy="221.6" r="7.35" fill="#89badf"/>
<circle cx="411.9" cy="231.3" r="9.05" fill="#f38c7a"/>
<circle cx="446.2" cy="227.3" r="8.90" fill="#89badf"/>
<circle cx="431.4" cy="229.0" r="9.15" fill="#89badf"/>
<circle cx="418.4" cy="248.6" r="9.10" fill="#89badf"/>
<circle cx="429.7" cy="239.0" r="8.70" fill="#f38c7a"/>
<circle cx="484.9" cy="187.4" r="8.90" fill="#f38c7a"/>
<circle cx="499.7" cy="186.9" r="8.45" fill="#f38c7a"/>
<circle cx="535.1" cy="189.7" r="8.10" fill="#ef735e"/>
<circle cx="559.5" cy="206.0" r="8.60" fill="#f38c7a"/>
<circle cx="560.8" cy="193.6" r="9.35" fill="#89badf"/>
<circle cx="535.5" cy="217.7" r="8.80" fill="#f38c7a"/>
<circle cx="546.1" cy="206.4" r="9.35" fill="#89badf"/>
<circle cx="514.3" cy="210.9" r="8.85" fill="#89badf"/>
<circle cx="520.2" cy="228.7" r="9.00" fill="#f38c7a"/>
<circle cx="497.0" cy="242.2" r="8.60" fill="#f38c7a"/>
<circle cx="506.1" cy="237.2" r="8.60" fill="#89badf"/>
<circle cx="509.1" cy="267.2" r="8.90" fill="#89badf"/>
<circle cx="498.9" cy="259.8" r="9.35" fill="#f38c7a"/>
<circle cx="406.8" cy="276.5" r="9.80" fill="#f38c7a"/>
<circle cx="432.1" cy="276.4" r="9.35" fill="#89badf"/>
<circle cx="464.5" cy="285.7" r="8.60" fill="#f38c7a"/>
<circle cx="406.8" cy="307.3" r="8.55" fill="#89badf"/>
<circle cx="430.4" cy="304.4" r="9.10" fill="#f38c7a"/>
<circle cx="455.3" cy="345.3" r="8.40" fill="#f38c7a"/>
<circle cx="461.9" cy="356.5" r="8.40" fill="#f38c7a"/>
<circle cx="458.6" cy="364.8" r="8.30" fill="#f38c7a"/>
<circle cx="466.9" cy="366.6" r="8.40" fill="#f38c7a"/>
<circle cx="448.2" cy="368.3" r="8.40" fill="#f38c7a"/>
<circle cx="454.6" cy="385.8" r="8.05" fill="#669bcb"/>
<circle cx="469.1" cy="391.8" r="8.50" fill="#f38c7a"/>
<circle cx="62.7" cy="124.8" r="8.85" fill="#fb9c8a"/>
<circle cx="55.6" cy="151.4" r="9.00" fill="#99c4e4"/>
<circle cx="61.3" cy="256.2" r="7.65" fill="#f7806a"/>
<circle cx="70.0" cy="244.1" r="9.40" fill="#fb9c8a"/>
<circle cx="97.4" cy="300.5" r="9.50" fill="#99c4e4"/>
<circle cx="127.2" cy="277.7" r="9.25" fill="#99c4e4"/>
<circle cx="120.2" cy="294.3" r="9.10" fill="#99c4e4"/>
<circle cx="161.0" cy="325.8" r="8.85" fill="#99c4e4"/>
<circle cx="158.3" cy="309.7" r="9.00" fill="#fb9c8a"/>
<circle cx="229.5" cy="234.9" r="9.25" fill="#fb9c8a"/>
<circle cx="341.0" cy="157.7" r="8.15" fill="#5a8ec3"/>
<circle cx="330.6" cy="241.0" r="8.35" fill="#fb9c8a"/>
<circle cx="301.5" cy="257.9" r="9.45" fill="#3b6a9c"/>
<circle cx="315.2" cy="275.2" r="8.30" fill="#99c4e4"/>
<circle cx="299.6" cy="284.3" r="8.45" fill="#99c4e4"/>
<circle cx="305.4" cy="315.9" r="9.55" fill="#fb9c8a"/>
<circle cx="339.7" cy="320.0" r="8.90" fill="#fb9c8a"/>
<circle cx="352.8" cy="292.3" r="8.20" fill="#99c4e4"/>
<circle cx="377.6" cy="288.7" r="9.15" fill="#fb9c8a"/>
<circle cx="373.5" cy="320.5" r="9.15" fill="#5689be"/>
<circle cx="290.4" cy="354.2" r="8.35" fill="#fb9c8a"/>
<circle cx="300.5" cy="344.8" r="8.95" fill="#fb9c8a"/>
<circle cx="303.2" cy="370.9" r="8.10" fill="#fb9c8a"/>
<circle cx="323.5" cy="351.3" r="8.50" fill="#fb9c8a"/>
<circle cx="343.3" cy="346.6" r="8.10" fill="#fb9c8a"/>
<circle cx="332.0" cy="343.4" r="8.50" fill="#4677ad"/>
<circle cx="378.8" cy="349.5" r="7.85" fill="#99c4e4"/>
<circle cx="364.0" cy="341.6" r="8.10" fill="#99c4e4"/>
<circle cx="354.2" cy="348.5" r="8.60" fill="#99c4e4"/>
<circle cx="393.0" cy="340.3" r="7.10" fill="#f7806a"/>
<circle cx="384.7" cy="342.7" r="7.95" fill="#f7806a"/>
<circle cx="372.4" cy="243.1" r="7.85" fill="#fb9c8a"/>
<circle cx="380.6" cy="217.4" r="8.45" fill="#99c4e4"/>
<circle cx="371.0" cy="208.7" r="7.90" fill="#fb9c8a"/>
<circle cx="383.8" cy="196.9" r="8.45" fill="#99c4e4"/>
<circle cx="396.9" cy="185.4" r="8.30" fill="#fb9c8a"/>
<circle cx="395.8" cy="205.1" r="8.30" fill="#fb9c8a"/>
<circle cx="412.7" cy="188.5" r="6.25" fill="#f7806a"/>
<circle cx="437.3" cy="188.0" r="7.60" fill="#99c4e4"/>
<circle cx="435.4" cy="207.4" r="8.75" fill="#99c4e4"/>
<circle cx="441.2" cy="192.2" r="8.15" fill="#fb9c8a"/>
<circle cx="456.6" cy="206.0" r="7.35" fill="#fb9c8a"/>
<circle cx="468.5" cy="211.8" r="6.85" fill="#fb9c8a"/>
<circle cx="461.0" cy="218.0" r="7.10" fill="#fb9c8a"/>
<circle cx="474.8" cy="221.6" r="6.85" fill="#99c4e4"/>
<circle cx="411.9" cy="231.3" r="8.55" fill="#fb9c8a"/>
<circle cx="446.2" cy="227.3" r="8.40" fill="#99c4e4"/>
<circle cx="431.4" cy="229.0" r="8.65" fill="#99c4e4"/>
<circle cx="418.4" cy="248.6" r="8.60" fill="#99c4e4"/>
<circle cx="429.7" cy="239.0" r="8.20" fill="#fb9c8a"/>
<circle cx="484.9" cy="187.4" r="8.40" fill="#fb9c8a"/>
<circle cx="499.7" cy="186.9" r="7.95" fill="#fb9c8a"/>
<circle cx="535.1" cy="189.7" r="7.60" fill="#f7806a"/>
<circle cx="559.5" cy="206.0" r="8.10" fill="#fb9c8a"/>
<circle cx="560.8" cy="193.6" r="8.85" fill="#99c4e4"/>
<circle cx="535.5" cy="217.7" r="8.30" fill="#fb9c8a"/>
<circle cx="546.1" cy="206.4" r="8.85" fill="#99c4e4"/>
<circle cx="514.3" cy="210.9" r="8.35" fill="#99c4e4"/>
<circle cx="520.2" cy="228.7" r="8.50" fill="#fb9c8a"/>
<circle cx="497.0" cy="242.2" r="8.10" fill="#fb9c8a"/>
<circle cx="506.1" cy="237.2" r="8.10" fill="#99c4e4"/>
<circle cx="509.1" cy="267.2" r="8.40" fill="#99c4e4"/>
<circle cx="498.9" cy="259.8" r="8.85" fill="#fb9c8a"/>
<circle cx="406.8" cy="276.5" r="9.30" fill="#fb9c8a"/>
<circle cx="432.1" cy="276.4" r="8.85" fill="#99c4e4"/>
<circle cx="464.5" cy="285.7" r="8.10" fill="#fb9c8a"/>
<circle cx="406.8" cy="307.3" r="8.05" fill="#99c4e4"/>
<circle cx="430.4" cy="304.4" r="8.60" fill="#fb9c8a"/>
<circle cx="455.3" cy="345.3" r="7.90" fill="#fb9c8a"/>
<circle cx="461.9" cy="356.5" r="7.90" fill="#fb9c8a"/>
<circle cx="458.6" cy="364.8" r="7.80" fill="#fb9c8a"/>
<circle cx="466.9" cy="366.6" r="7.90" fill="#fb9c8a"/>
<circle cx="448.2" cy="368.3" r="7.90" fill="#fb9c8a"/>
<circle cx="454.6" cy="385.8" r="7.55" fill="#72a4d0"/>
<circle cx="469.1" cy="391.8" r="8.00" fill="#fb9c8a"/>
<rect x="7" y="423.2" width="108" height="8.6" fill="rgba(255,255,255,0.6)"/>
<text x="8.6" y="429.8" font-size="6.75" fill="#555">© 2025 Mapbox © OpenStreetMap</text>
</g>
<rect x="4.5" y="77.5" width="596" height="355.5" fill="none" stroke="#e2e2e2" stroke-width="1"/>
<!-- legend -->
<circle cx="16.6" cy="459.7" r="0.9" fill="#999"/>
<text x="34.5" y="462.5" font-size="7.7" fill="#5c5c5c">0.0%</text>
<circle cx="120.6" cy="459.6" r="5.3" fill="#d5d5d5" stroke="#a2a2a2" stroke-width="0.8"/>
<text x="134.5" y="462.5" font-size="7.7" fill="#5c5c5c">20.0%</text>
<defs><clipPath id="lc"><rect x="0" y="454.2" width="608" height="10.9"/></clipPath></defs>
<g clip-path="url(#lc)">
<circle cx="224.7" cy="459.6" r="8.1" fill="#d6d6d6" stroke="#a5a5a5" stroke-width="0.8"/>
<circle cx="328.7" cy="459.6" r="9.6" fill="#d6d6d6" stroke="#a5a5a5" stroke-width="0.8"/>
<circle cx="432.8" cy="459.6" r="10.8" fill="#d6d6d6" stroke="#a5a5a5" stroke-width="0.8"/>
</g>
<text x="237.8" y="462.5" font-size="7.7" fill="#5c5c5c">40.0%</text>
<text x="342.2" y="462.5" font-size="7.7" fill="#5c5c5c">60.0%</text>
<text x="446.5" y="462.5" font-size="7.7" fill="#5c5c5c">73.3%</text>
<!-- logo -->
<line x1="489.5" y1="463.5" x2="497" y2="451.5" stroke="#7cbb3d" stroke-width="5.6" stroke-linecap="round"/>
<line x1="497" y1="451.5" x2="504" y2="463.5" stroke="#5cbce3" stroke-width="5.6" stroke-linecap="round"/>
<circle cx="497" cy="451.5" r="2.5" fill="#4d9a36"/>
<text x="511.3" y="461.3" font-size="12.2" fill="#3d4852" stroke="#3d4852" stroke-width="0.4" letter-spacing="0.68">AUCTION.COM</text>
<text x="531.6" y="469.8" font-size="5.4" font-weight="bold" letter-spacing="0.45"><tspan fill="#4ab2e0">BEYOND</tspan><tspan fill="#6cb33e"> THE BID.</tspan></text>
<!-- dotted right edge -->
<line x1="607.5" y1="0" x2="607.5" y2="482" stroke="#d6d6d6" stroke-width="1" stroke-dasharray="1,2"/>
</svg>
</body></html>
